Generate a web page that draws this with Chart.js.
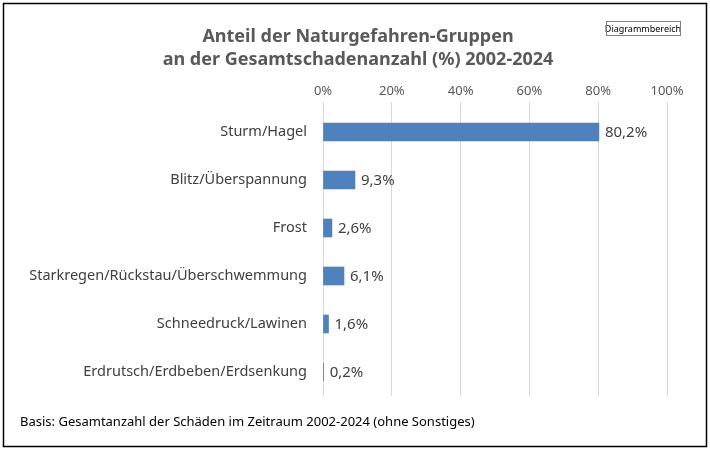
<!DOCTYPE html>
<html lang="de">
<head>
<meta charset="UTF-8">
<title>Anteil der Naturgefahren-Gruppen</title>
<script src="https://cdn.jsdelivr.net/npm/chart.js"></script>
<style>
  html, body { margin: 0; padding: 0; background: #fff; }
  #wrap { width: 710px; height: 451px; }
</style>
</head>
<body>
<div id="wrap"><canvas id="myChart" width="710" height="451"></canvas></div>
<script>
// Daten aus dem Diagramm
const categories = [
    "Sturm/Hagel",
    "Blitz/Überspannung",
    "Frost",
    "Starkregen/Rückstau/Überschwemmung",
    "Schneedruck/Lawinen",
    "Erdrutsch/Erdbeben/Erdsenkung"
];
const shares = [80.2, 9.3, 2.6, 6.1, 1.6, 0.2];
const titleLines = ["Anteil der Naturgefahren-Gruppen", "an der Gesamtschadenanzahl (%) 2002-2024"];
const footnote = "Basis: Gesamtanzahl der Schäden im Zeitraum 2002-2024 (ohne Sonstiges)";

const FONT = "'Noto Sans', 'Open Sans', sans-serif";

// Rahmen, Titel, Fußnote und Werte zeichnen
const extras = {
    id: "extras",
    afterDraw(chart) {
        const ctx = chart.ctx;
        ctx.save();
        ctx.strokeStyle = "#000";
        ctx.lineWidth = 1.5;
        ctx.strokeRect(3.5, 3.5, 703, 443);

        ctx.fillStyle = "#595959";
        ctx.font = "bold 18px " + FONT;
        ctx.textAlign = "center";
        ctx.textBaseline = "middle";
        ctx.fillText(titleLines[0], 358, 37);
        ctx.fillText(titleLines[1], 358, 60);

        // kleine Beschriftung "Diagrammbereich"
        ctx.font = "9px " + FONT;
        ctx.fillStyle = "#000";
        ctx.fillText("Diagrammbereich", 643, 29);
        ctx.strokeStyle = "#808080";
        ctx.lineWidth = 1;
        ctx.strokeRect(606.5, 21.5, 74, 14);

        ctx.textAlign = "left";
        ctx.font = "13px " + FONT;
        ctx.fillStyle = "#000";
        ctx.fillText(footnote, 20, 422);

        // Werte neben den Balken
        const meta = chart.getDatasetMeta(0);
        ctx.font = "15px " + FONT;
        ctx.fillStyle = "#404040";
        meta.data.forEach((bar, i) => {
            ctx.fillText(shares[i].toFixed(1).replace(".", ",") + "%", bar.x + 6, bar.y + 1);
        });
        ctx.restore();
    }
};

new Chart(document.getElementById("myChart"), {
    type: "bar",
    data: {
        labels: categories,
        datasets: [{
            data: shares,
            backgroundColor: "#4f81bd",
            borderWidth: 0,
            barThickness: 18
        }]
    },
    options: {
        indexAxis: "y",
        responsive: false,
        animation: false,
        layout: { padding: { top: 78, right: 43, bottom: 55, left: 0 } },
        plugins: { legend: { display: false }, tooltip: { enabled: false } },
        scales: {
            x: {
                position: "top",
                min: 0,
                max: 100,
                ticks: {
                    stepSize: 20,
                    color: "#595959",
                    font: { family: FONT, size: 13 },
                    callback: v => v + "%"
                },
                grid: { color: "#d9d9d9", drawTicks: true, tickLength: 6 },
                border: { display: false },
                afterFit(scale) { scale.height = 30; }
            },
            y: {
                ticks: { color: "#404040", font: { family: FONT, size: 14.5 }, padding: 8 },
                grid: { display: false },
                border: { display: false },
                afterFit(scale) { scale.width = 323; }
            }
        }
    },
    plugins: [extras]
});
</script>
</body>
</html>
